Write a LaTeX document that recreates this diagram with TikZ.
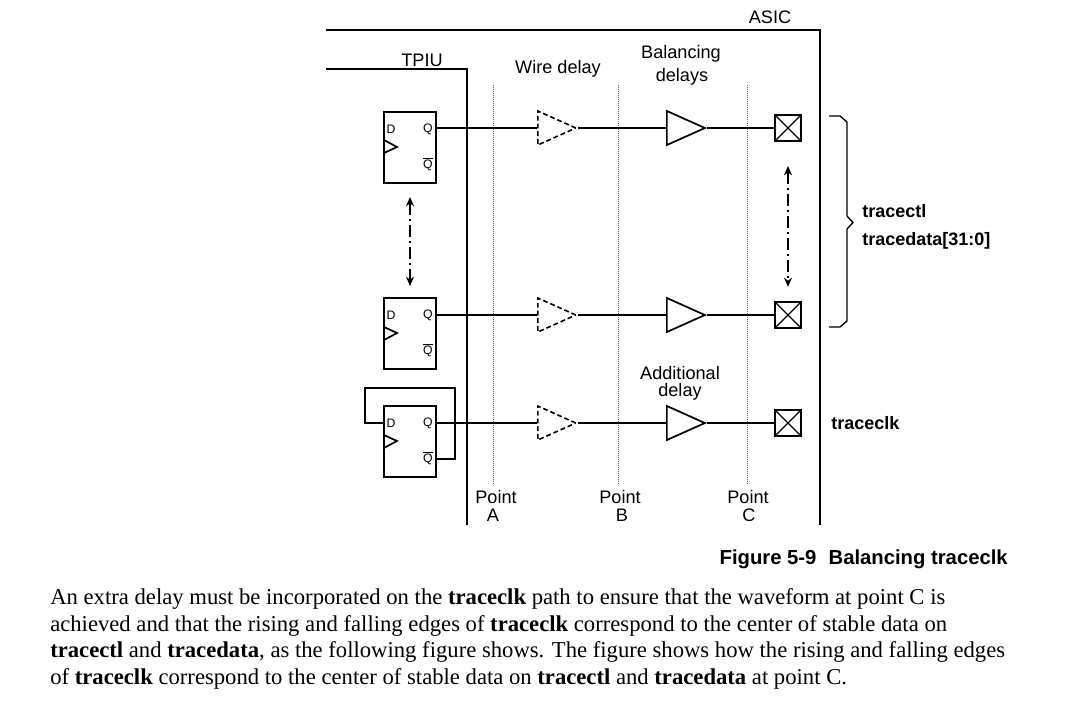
\documentclass[tikz,border=0pt]{standalone}
\usepackage{fontspec}
\setmainfont{Liberation Sans}
\newfontfamily\bodyfont{Liberation Serif}
\usetikzlibrary{arrows.meta, shapes.geometric}

\begin{document}
\begin{tikzpicture}[
    x=0.75pt, y=-0.75pt,
    >={Stealth[length=7pt,width=6pt]},
    % walls of the two blocks
    wall/.style={line width=1.35pt},
    wire/.style={line width=1.3pt},
    % flip-flop body and its pin letters
    ff_box/.style={draw, line width=1.3pt, minimum width=39pt, minimum height=53.5pt, inner sep=0pt},
    pin_text/.style={font=\fontsize{9.2}{10}\selectfont, inner sep=0pt},
    % buffers
    buf_solid/.style={draw, line width=1.3pt, isosceles triangle, isosceles triangle stretches,
        minimum width=25.5pt, minimum height=28.5pt, inner sep=0pt, anchor=west},
    buf_wire/.style={buf_solid, line width=1.2pt, dash pattern=on 3.6pt off 2.2pt},
    % output pad
    pad_box/.style={draw, line width=1.3pt, minimum size=19pt, inner sep=0pt,
        path picture={\draw [line width=1pt] (path picture bounding box.south west) -- (path picture bounding box.north east)
            (path picture bounding box.north west) -- (path picture bounding box.south east);}},
    guide/.style={densely dotted, line width=0.5pt, gray!80!black},
    span_arrow/.style={<->, line width=1pt, dash pattern=on 9pt off 3pt on 1.5pt off 3pt},
    label_text/.style={font=\fontsize{13.6}{14}\selectfont, inner sep=0pt, anchor=base},
    bold_text/.style={font=\fontsize{13.5}{14}\selectfont\bfseries, inner sep=0pt, anchor=base west},
    body_text/.style={font=\bodyfont\fontsize{17}{18}\selectfont, inner sep=0pt, anchor=base west}
]
    \useasboundingbox (0,0) rectangle (1067,719);

    % --- block outlines ---
    \coordinate (asic_start) at (326,30);
    \coordinate (asic_corner) at (820,30);
    \coordinate (asic_end) at (820,525);
    \coordinate (tpiu_start) at (326,69);
    \coordinate (tpiu_corner) at (467,69);
    \coordinate (tpiu_end) at (467,525);
    \draw [wall] (asic_start) -- (asic_corner) -- (asic_end);
    \draw [wall] (tpiu_start) -- (tpiu_corner) -- (tpiu_end);
    \node [label_text] (asicText) at (770,23) {ASIC};
    \node [label_text] (tpiuText) at (422,66) {TPIU};

    % --- measuring points ---
    \coordinate (pointA_top) at (493,85);
    \coordinate (pointA_end) at (493,485);
    \coordinate (pointB_top) at (618,85);
    \coordinate (pointB_end) at (618,485);
    \coordinate (pointC_top) at (747,85);
    \coordinate (pointC_end) at (747,485);
    \draw [guide] (pointA_top) -- (pointA_end);
    \draw [guide] (pointB_top) -- (pointB_end);
    \draw [guide] (pointC_top) -- (pointC_end);

    % --- upper row ---
    \node [ff_box] (ffTop) at (410,147.5) {};
    \node [pin_text] (ffTopD) at (391,129) {D};
    \node [pin_text] (ffTopQ) at (428,129) {Q};
    \node [pin_text] (ffTopN) at (428,164) {$\overline{\mbox{Q}}$};
    \coordinate (ffTopOut) at (436,128);
    \draw [wire] (384,140) -- (397,147) -- (384,153);
    \node [buf_wire] (wireTop) at (537,128) {};
    \node [buf_solid] (balTop) at (666,128) {};
    \node [pad_box] (padTop) at (788,128) {};
    \draw [wire] (ffTopOut) -- (wireTop.west);
    \draw [wire] (wireTop.apex) -- (balTop.west);
    \draw [wire] (balTop.apex) -- (padTop.west);

    % --- lower row ---
    \node [ff_box] (ffLow) at (410,333.5) {};
    \node [pin_text] (ffLowD) at (391,315) {D};
    \node [pin_text] (ffLowQ) at (428,315) {Q};
    \node [pin_text] (ffLowN) at (428,350) {$\overline{\mbox{Q}}$};
    \coordinate (ffLowOut) at (436,315);
    \draw [wire] (384,327) -- (397,333) -- (384,340);
    \node [buf_wire] (wireLow) at (537,315) {};
    \node [buf_solid] (balLow) at (666,315) {};
    \node [pad_box] (padLow) at (788,315) {};
    \draw [wire] (ffLowOut) -- (wireLow.west);
    \draw [wire] (wireLow.apex) -- (balLow.west);
    \draw [wire] (balLow.apex) -- (padLow.west);

    % --- clock row ---
    \node [ff_box] (ffClk) at (410,441.5) {};
    \node [pin_text] (ffClkD) at (391,423) {D};
    \node [pin_text] (ffClkQ) at (428,423) {Q};
    \node [pin_text] (ffClkN) at (428,458) {$\overline{\mbox{Q}}$};
    \coordinate (ffClkOut) at (436,423);
    \coordinate (ffClkIn) at (384,423);
    \coordinate (ffClkBar) at (436,459);
    \coordinate (backA) at (455,459);
    \coordinate (backB) at (455,388);
    \coordinate (backC) at (365,388);
    \coordinate (backD) at (365,423);
    \draw [wire] (384,435) -- (397,441) -- (384,448);
    \draw [wire] (ffClkBar) -- (backA) -- (backB) -- (backC) -- (backD) -- (ffClkIn);
    \node [buf_wire] (wireClk) at (537,423) {};
    \node [buf_solid] (balClk) at (666,423) {};
    \node [pad_box] (padClk) at (788,423) {};
    \draw [wire] (ffClkOut) -- (wireClk.west);
    \draw [wire] (wireClk.apex) -- (balClk.west);
    \draw [wire] (balClk.apex) -- (padClk.west);

    % --- repeat markers ---
    \coordinate (spanL_top) at (410,197);
    \coordinate (spanL_end) at (410,286);
    \coordinate (spanR_top) at (788,166);
    \coordinate (spanR_end) at (788,287);
    \draw [span_arrow] (spanL_top) -- (spanL_end);
    \draw [span_arrow] (spanR_top) -- (spanR_end);

    % --- brace ---
    \draw [line width=1pt] (829,116) -- (840,116) -- (847,122) -- (847,216) -- (853,222.5)
        -- (847,229) -- (847,321) -- (840,327) -- (829,327);

    % --- labels ---
    \node [label_text] (wireText) at (558,73) {Wire delay};
    \node [label_text] (balText) at (681,58) {Balancing};
    \node [label_text] (balText2) at (682,81) {delays};
    \node [label_text] (addText) at (680,379.5) {Additional};
    \node [label_text] (addText2) at (680,396) {delay};
    \node [label_text] (pointAText) at (496,503) {Point};
    \node [label_text] (pointAText2) at (493,521) {A};
    \node [label_text] (pointBText) at (620,503) {Point};
    \node [label_text] (pointBText2) at (622,521) {B};
    \node [label_text] (pointCText) at (748,503) {Point};
    \node [label_text] (pointCText2) at (749,521) {C};
    \node [bold_text] (ctlText) at (862,217) {tracectl};
    \node [bold_text] (dataText) at (862,245) {tracedata[31:0]};
    \node [bold_text] (clkText) at (831,429) {traceclk};
    \node [bold_text, anchor=base east, font=\fontsize{15.2}{16}\selectfont\bfseries] (figText) at (1008,564) {Figure 5-9\hspace{0.6em}Balancing traceclk};

    % --- text below the figure ---
    \node [body_text] (lineA) at (50,604) {An extra delay must be incorporated on the \textbf{traceclk} path to ensure that the waveform at point C is};
    \node [body_text] (lineB) at (50,631) {achieved and that the rising and falling edges of \textbf{traceclk} correspond to the center of stable data on};
    \node [body_text] (lineC) at (50,657) {\textbf{tracectl} and \textbf{tracedata}, as the following figure shows. The figure shows how the rising and falling edges};
    \node [body_text] (lineD) at (50,684) {of \textbf{traceclk} correspond to the center of stable data on \textbf{tracectl} and \textbf{tracedata} at point C.};
\end{tikzpicture}
\end{document}
